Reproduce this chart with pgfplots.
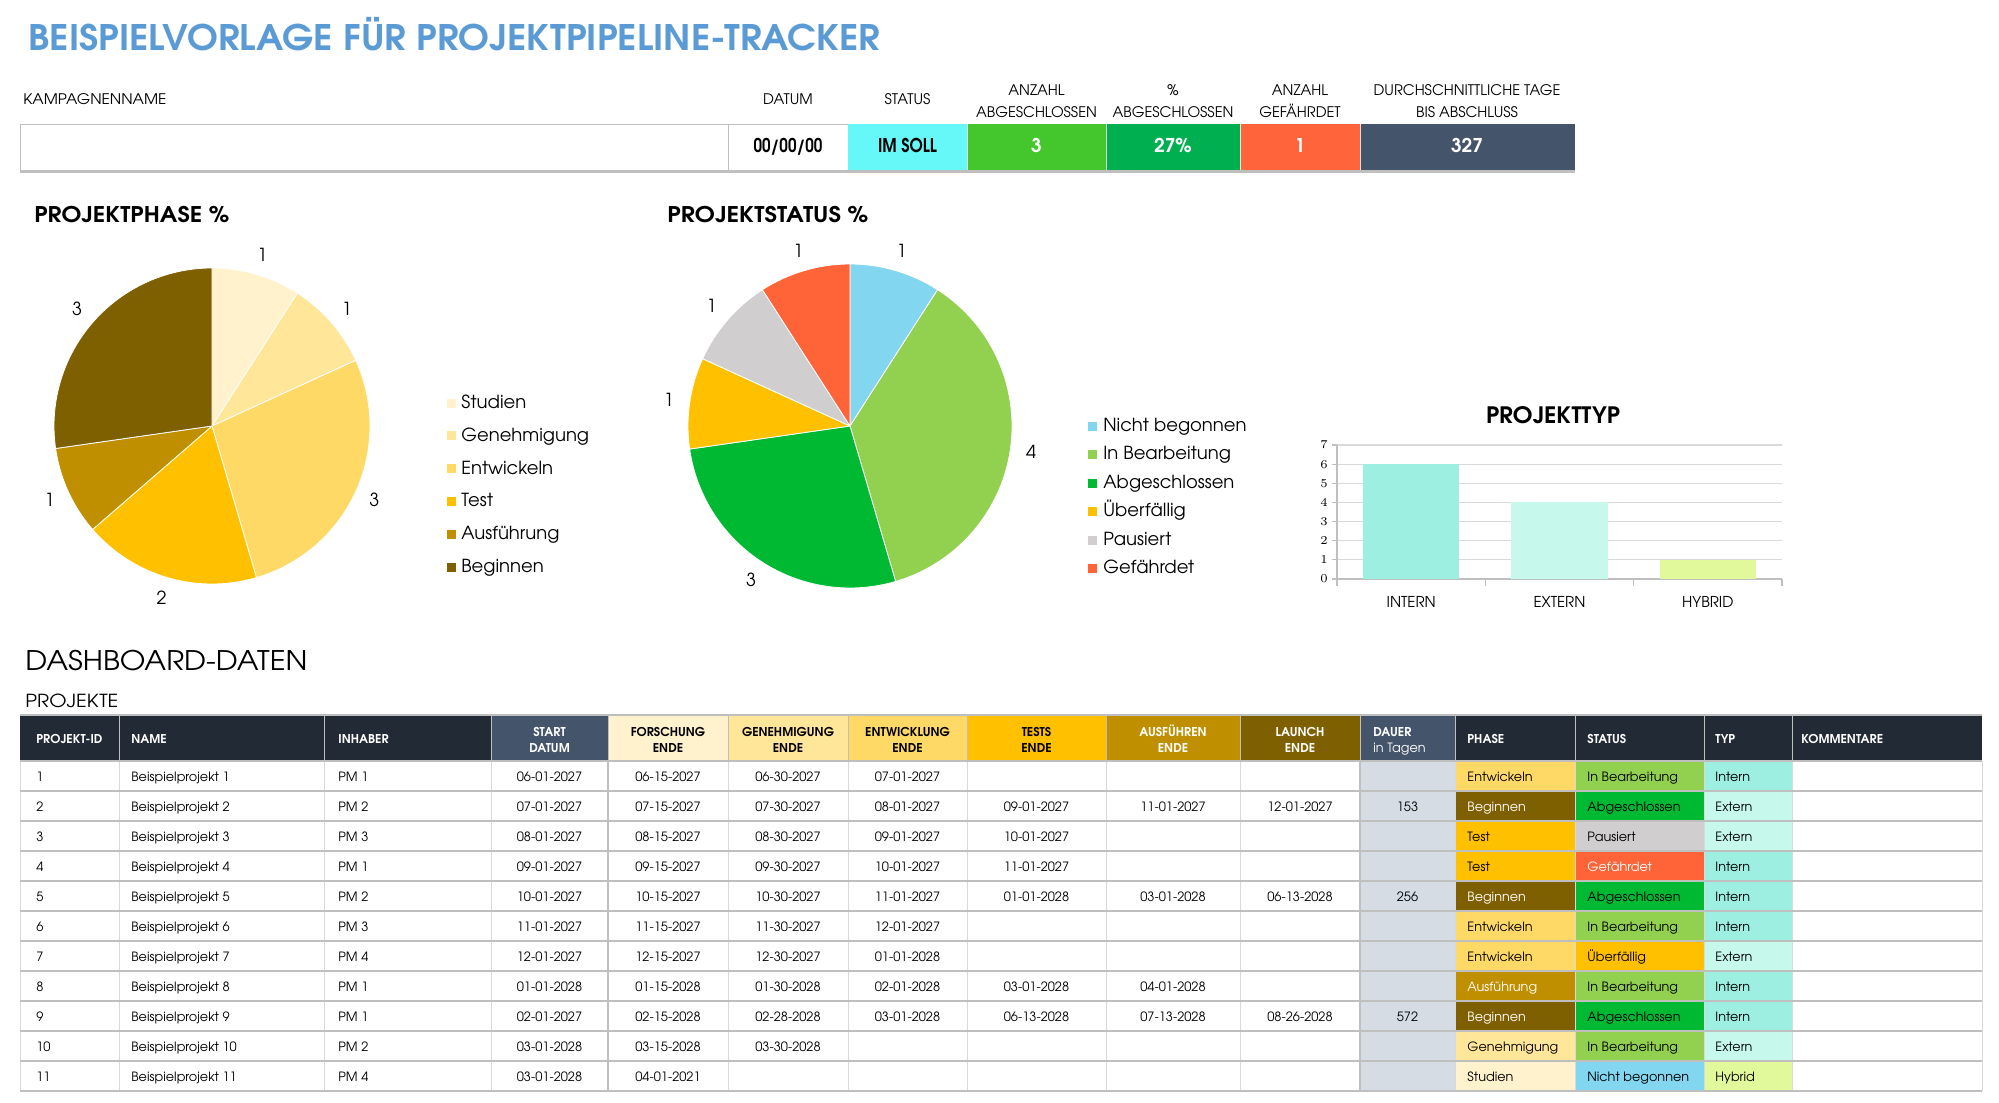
\documentclass[border=0pt]{standalone}
\usepackage{graphicx}
\usepackage{pgfplots}
\pgfplotsset{compat=1.18}
\usepackage{fontspec}
\setmainfont{TeX Gyre Adventor}
\definecolor{titleblue}{HTML}{5B9BD5}
\definecolor{hdark}{HTML}{222A35}
\definecolor{slate}{HTML}{44546A}
\definecolor{ph1}{HTML}{FFF2CC}
\definecolor{ph2}{HTML}{FFE699}
\definecolor{ph3}{HTML}{FFD966}
\definecolor{ph4}{HTML}{FFC000}
\definecolor{ph5}{HTML}{BF8F00}
\definecolor{ph6}{HTML}{7F6000}
\definecolor{st1}{HTML}{83D6F0}
\definecolor{st2}{HTML}{92D050}
\definecolor{st3}{HTML}{00B933}
\definecolor{st4}{HTML}{FFC000}
\definecolor{st5}{HTML}{D0CECE}
\definecolor{st6}{HTML}{FF6338}
\definecolor{ty1}{HTML}{9DEFE1}
\definecolor{ty2}{HTML}{C6F9EB}
\definecolor{ty3}{HTML}{E2F99B}
\definecolor{kcyan}{HTML}{66F8F8}
\definecolor{kgreen}{HTML}{44C72C}
\definecolor{kgreen2}{HTML}{00B050}
\definecolor{korange}{HTML}{FF643A}
\definecolor{dauer}{HTML}{D6DCE4}
\definecolor{gridc}{HTML}{BFBFBF}
\definecolor{gridl}{HTML}{D9D9D9}
\newcommand{\fs}[1]{\fontsize{#1pt}{#1pt}\selectfont}
\newcommand{\fw}[2]{\resizebox{#1}{\height}{#2}}
\newcommand{\wt}[1]{\textcolor{white}{#1}}
% pie slice: start count, end count, total, colour, radius (axis units = px), radius in pt
\newcommand{\pieslice}[6]{%
  \fill[#4, draw=white, line width=0.4pt] (axis cs:0,0) -- (axis cs:{#5*cos(90-360*#1/#3)},{#5*sin(90-360*#1/#3)})
    arc[start angle={90-360*#1/#3}, end angle={90-360*#2/#3}, radius=#6pt] -- cycle;}
% pie label: start, end, total, radius, text
\newcommand{\pielabel}[5]{%
  \node[font=\fs{9}, inner sep=0pt] at (axis cs:{1.13*#4*cos(90-180*(#1+#2)/#3)},{1.13*#4*sin(90-180*(#1+#2)/#3)}) {#5};}
\tikzset{
  lbl/.style={font=\fs{7.3}, inner sep=0pt, anchor=mid},
  kv/.style={font=\fs{9.5}\bfseries, inner sep=0pt, anchor=mid},
  hd/.style={font=\fs{6.1}\bfseries, inner sep=0pt, anchor=mid},
  cell/.style={font=\fs{6.4}, inner sep=0pt, anchor=mid},
  leg/.style={font=\fs{9}, inner sep=0pt, anchor=mid west},
}
\newcommand{\rowA}[8]{%
  \node[cell, anchor=mid west] at (36,{746+30*#1}) {#2};
  \node[cell, anchor=mid west] at (131,{746+30*#1}) {#3};
  \node[cell, anchor=mid west] at (338,{746+30*#1}) {#4};
  \node[cell] at (549.5,{746+30*#1}) {#5};
  \node[cell] at (668,{746+30*#1}) {#6};
  \node[cell] at (788,{746+30*#1}) {#7};
  \node[cell] at (907.5,{746+30*#1}) {#8};}
\newcommand{\rowB}[5]{%
  \node[cell] at (1036.5,{746+30*#1}) {#2};
  \node[cell] at (1173,{746+30*#1}) {#3};
  \node[cell] at (1300,{746+30*#1}) {#4};
  \node[cell] at (1407.5,{746+30*#1}) {#5};}
\newcommand{\rowC}[7]{%
  \fill[#2] (1455,{731+30*#1}) rectangle (1575,{761+30*#1});
  \fill[#4] (1575,{731+30*#1}) rectangle (1704,{761+30*#1});
  \fill[#6] (1704,{731+30*#1}) rectangle (1792,{761+30*#1});
  \node[cell, anchor=mid west] at (1467,{746+30*#1}) {#3};
  \node[cell, anchor=mid west] at (1587,{746+30*#1}) {#5};
  \node[cell, anchor=mid west] at (1715,{746+30*#1}) {#7};}
\begin{document}
\begin{tikzpicture}[x=0.5pt,y=-0.5pt]
\fill[white] (0,0) rectangle (1999,1103);
% ---------- title ----------
\node[anchor=base west, inner sep=0pt, text=titleblue, font=\fs{17.6}\bfseries] at (28,51) {\fw{426pt}{BEISPIELVORLAGE FÜR PROJEKTPIPELINE-TRACKER}};
% ---------- KPI row ----------
\node[lbl, anchor=mid west] at (23,99) {\fw{71.5pt}{KAMPAGNENNAME}};
\node[lbl] at (788,99) {DATUM};
\node[lbl] at (907.5,99) {STATUS};
\node[lbl] at (1036.5,90) {ANZAHL};
\node[lbl] at (1036.5,112) {ABGESCHLOSSEN};
\node[lbl] at (1173,90) {\%};
\node[lbl] at (1173,112) {ABGESCHLOSSEN};
\node[lbl] at (1300,90) {ANZAHL};
\node[lbl] at (1300,112) {GEFÄHRDET};
\node[lbl] at (1467,90) {DURCHSCHNITTLICHE TAGE};
\node[lbl] at (1467,112) {BIS ABSCHLUSS};
\fill[kcyan] (848,124) rectangle (967,170);
\fill[kgreen] (967,124) rectangle (1106,170);
\fill[kgreen2] (1106,124) rectangle (1240,170);
\fill[korange] (1240,124) rectangle (1360,170);
\fill[slate] (1360,124) rectangle (1575,170);
\draw[gridc, line width=0.5pt] (20,170) -- (20,124) -- (848,124);
\draw[gridc, line width=0.5pt] (728,124) -- (728,170);
\foreach \xx in {967,1106,1240,1360} \draw[white!80!gray, line width=0.4pt] (\xx,124) -- (\xx,170);
\draw[gridc, line width=1.5pt] (20,171) -- (1575,171);
\node[kv] at (788,147) {\fw{34.5pt}{00/00/00}};
\node[kv] at (907.5,147) {\fw{29.5pt}{IM SOLL}};
\node[kv, text=white] at (1036.5,147) {3};
\node[kv, text=white] at (1173,147) {27\%};
\node[kv, text=white] at (1300,147) {1};
\node[kv, text=white] at (1467,147) {327};
% ---------- chart titles ----------
\node[anchor=base west, inner sep=0pt, font=\fs{10.8}\bfseries] at (34,222) {\fw{97.5pt}{PROJEKTPHASE \%}};
\node[anchor=base west, inner sep=0pt, font=\fs{10.8}\bfseries] at (667,222) {\fw{100.5pt}{PROJEKTSTATUS \%}};
\node[anchor=base, inner sep=0pt, font=\fs{11.3}\bfseries] at (1553,423) {\fw{67pt}{PROJEKTTYP}};
% ---------- phase pie ----------
\begin{axis}[at={(106pt,-213pt)}, anchor=center, x=0.5pt, y=0.5pt,
  xmin=-200, xmax=200, ymin=-200, ymax=200, hide axis, clip=false]
\pieslice{0}{1}{11}{ph1}{158}{79}
\pieslice{1}{2}{11}{ph2}{158}{79}
\pieslice{2}{5}{11}{ph3}{158}{79}
\pieslice{5}{7}{11}{ph4}{158}{79}
\pieslice{7}{8}{11}{ph5}{158}{79}
\pieslice{8}{11}{11}{ph6}{158}{79}
\pielabel{0}{1}{11}{158}{1}
\pielabel{1}{2}{11}{158}{1}
\pielabel{2}{5}{11}{158}{3}
\pielabel{5}{7}{11}{158}{2}
\pielabel{7}{8}{11}{158}{1}
\pielabel{8}{11}{11}{158}{3}
\end{axis}
% phase legend
\foreach \c/\t [count=\k from 0] in {ph1/Studien, ph2/Genehmigung, ph3/Entwickeln, ph4/Test, ph5/Ausführung, ph6/Beginnen}{
  \fill[\c] (447,{403+32.8*\k-4.5}) rectangle (456,{403+32.8*\k+4.5});
  \node[leg] at (461,{403+32.8*\k}) {\t};
}
% ---------- status pie ----------
\begin{axis}[at={(425pt,-213pt)}, anchor=center, x=0.5pt, y=0.5pt,
  xmin=-200, xmax=200, ymin=-200, ymax=200, hide axis, clip=false]
\pieslice{0}{1}{11}{st1}{162}{81}
\pieslice{1}{5}{11}{st2}{162}{81}
\pieslice{5}{8}{11}{st3}{162}{81}
\pieslice{8}{9}{11}{st4}{162}{81}
\pieslice{9}{10}{11}{st5}{162}{81}
\pieslice{10}{11}{11}{st6}{162}{81}
\pielabel{0}{1}{11}{162}{1}
\pielabel{1}{5}{11}{162}{4}
\pielabel{5}{8}{11}{162}{3}
\pielabel{8}{9}{11}{162}{1}
\pielabel{9}{10}{11}{162}{1}
\pielabel{10}{11}{11}{162}{1}
\end{axis}
\foreach \c/\t [count=\k from 0] in {st1/Nicht begonnen, st2/In Bearbeitung, st3/Abgeschlossen, st4/Überfällig, st5/Pausiert, st6/Gefährdet}{
  \fill[\c] (1088,{426+28.5*\k-4.5}) rectangle (1097,{426+28.5*\k+4.5});
  \node[leg] at (1103,{426+28.5*\k}) {\t};
}
% ---------- bar chart ----------
\begin{axis}[at={(668.5pt,-289.5pt)}, anchor=south west,
  scale only axis, width=222.5pt, height=67pt,
  xmin=-0.5, xmax=2.5, ymin=0, ymax=7,
  xtick={0,1,2}, xticklabels={INTERN,EXTERN,HYBRID},
  ytick={0,1,...,7},
  axis x line*=bottom, axis y line*=left,
  axis line style={gridc, line width=0.6pt},
  ymajorgrids, grid style={gridl, line width=0.6pt},
  tick align=outside, major tick length=2.5pt,
  tick style={gridc, line width=0.6pt},
  xtick style={draw=none},
  yticklabel style={font=\fs{5.8}, anchor=east, inner sep=0pt, xshift=-2pt},
  xticklabel style={font=\fs{7.5}, anchor=base, yshift=-11.5pt, inner sep=0pt},
  ybar, bar width=0.65, clip=false]
\addplot[fill=ty1, draw=none, bar shift=0pt] coordinates {(0,6)};
\addplot[fill=ty2, draw=none, bar shift=0pt] coordinates {(1,4)};
\addplot[fill=ty3, draw=none, bar shift=0pt] coordinates {(2,1)};
\draw[gridc, line width=0.6pt] (axis cs:-0.5,0) -- ([yshift=-3.5pt]axis cs:-0.5,0);
\draw[gridc, line width=0.6pt] (axis cs:0.5,0) -- ([yshift=-3.5pt]axis cs:0.5,0);
\draw[gridc, line width=0.6pt] (axis cs:1.5,0) -- ([yshift=-3.5pt]axis cs:1.5,0);
\draw[gridc, line width=0.6pt] (axis cs:2.5,0) -- ([yshift=-3.5pt]axis cs:2.5,0);
\end{axis}
% ---------- dashboard data ----------
\node[anchor=base west, inner sep=0pt, font=\fs{13.5}] at (25,670) {\fw{141pt}{DASHBOARD-DATEN}};
\node[anchor=base west, inner sep=0pt, font=\fs{9}] at (25,707) {\fw{46.5pt}{PROJEKTE}};
% header fills
\fill[hdark] (20,715) rectangle (491,761);
\fill[slate] (491,715) rectangle (608,761);
\fill[ph1] (608,715) rectangle (728,761);
\fill[ph2] (728,715) rectangle (848,761);
\fill[ph3] (848,715) rectangle (967,761);
\fill[ph4] (967,715) rectangle (1106,761);
\fill[ph5] (1106,715) rectangle (1240,761);
\fill[ph6] (1240,715) rectangle (1360,761);
\fill[slate] (1360,715) rectangle (1455,761);
\fill[hdark] (1455,715) rectangle (1982,761);
\foreach \xx in {119,324,491,608,728,848,967,1106,1240,1360,1455,1575,1704,1792}
  \draw[gridc, line width=0.4pt] (\xx,715) -- (\xx,761);
\draw[gridc, line width=0.6pt] (20,715) -- (1982,715);
% header texts
\node[hd, anchor=mid west, text=white] at (36,738) {PROJEKT-ID};
\node[hd, anchor=mid west, text=white] at (131,738) {NAME};
\node[hd, anchor=mid west, text=white] at (338,738) {INHABER};
\node[hd, text=white] at (549.5,731) {START};
\node[hd, text=white] at (549.5,747) {DATUM};
\node[hd] at (668,731) {FORSCHUNG};
\node[hd] at (668,747) {ENDE};
\node[hd] at (788,731) {GENEHMIGUNG};
\node[hd] at (788,747) {ENDE};
\node[hd] at (907.5,731) {ENTWICKLUNG};
\node[hd] at (907.5,747) {ENDE};
\node[hd] at (1036.5,731) {TESTS};
\node[hd] at (1036.5,747) {ENDE};
\node[hd, text=white] at (1173,731) {AUSFÜHREN};
\node[hd, text=white] at (1173,747) {ENDE};
\node[hd, text=white] at (1300,731) {LAUNCH};
\node[hd, text=white] at (1300,747) {ENDE};
\node[hd, anchor=mid west, text=white] at (1373,731) {DAUER};
\node[cell, anchor=mid west, text=white] at (1373,747) {in Tagen};
\node[hd, anchor=mid west, text=white] at (1467,738) {PHASE};
\node[hd, anchor=mid west, text=white] at (1587,738) {STATUS};
\node[hd, anchor=mid west, text=white] at (1715,738) {TYP};
\node[hd, anchor=mid west, text=white] at (1801,738) {KOMMENTARE};
% body
\fill[dauer] (1360,761) rectangle (1455,1091);
\rowA{1}{1}{Beispielprojekt 1}{PM 1}{06-01-2027}{06-15-2027}{06-30-2027}{07-01-2027}
\rowB{1}{}{}{}{}
\rowC{1}{ph3}{Entwickeln}{st2}{In Bearbeitung}{ty1}{Intern}
\rowA{2}{2}{Beispielprojekt 2}{PM 2}{07-01-2027}{07-15-2027}{07-30-2027}{08-01-2027}
\rowB{2}{09-01-2027}{11-01-2027}{12-01-2027}{153}
\rowC{2}{ph6}{\wt{Beginnen}}{st3}{Abgeschlossen}{ty2}{Extern}
\rowA{3}{3}{Beispielprojekt 3}{PM 3}{08-01-2027}{08-15-2027}{08-30-2027}{09-01-2027}
\rowB{3}{10-01-2027}{}{}{}
\rowC{3}{ph4}{Test}{st5}{Pausiert}{ty2}{Extern}
\rowA{4}{4}{Beispielprojekt 4}{PM 1}{09-01-2027}{09-15-2027}{09-30-2027}{10-01-2027}
\rowB{4}{11-01-2027}{}{}{}
\rowC{4}{ph4}{Test}{st6}{\wt{Gefährdet}}{ty1}{Intern}
\rowA{5}{5}{Beispielprojekt 5}{PM 2}{10-01-2027}{10-15-2027}{10-30-2027}{11-01-2027}
\rowB{5}{01-01-2028}{03-01-2028}{06-13-2028}{256}
\rowC{5}{ph6}{\wt{Beginnen}}{st3}{Abgeschlossen}{ty1}{Intern}
\rowA{6}{6}{Beispielprojekt 6}{PM 3}{11-01-2027}{11-15-2027}{11-30-2027}{12-01-2027}
\rowB{6}{}{}{}{}
\rowC{6}{ph3}{Entwickeln}{st2}{In Bearbeitung}{ty1}{Intern}
\rowA{7}{7}{Beispielprojekt 7}{PM 4}{12-01-2027}{12-15-2027}{12-30-2027}{01-01-2028}
\rowB{7}{}{}{}{}
\rowC{7}{ph3}{Entwickeln}{st4}{Überfällig}{ty2}{Extern}
\rowA{8}{8}{Beispielprojekt 8}{PM 1}{01-01-2028}{01-15-2028}{01-30-2028}{02-01-2028}
\rowB{8}{03-01-2028}{04-01-2028}{}{}
\rowC{8}{ph5}{\wt{Ausführung}}{st2}{In Bearbeitung}{ty1}{Intern}
\rowA{9}{9}{Beispielprojekt 9}{PM 1}{02-01-2027}{02-15-2028}{02-28-2028}{03-01-2028}
\rowB{9}{06-13-2028}{07-13-2028}{08-26-2028}{572}
\rowC{9}{ph6}{\wt{Beginnen}}{st3}{Abgeschlossen}{ty1}{Intern}
\rowA{10}{10}{Beispielprojekt 10}{PM 2}{03-01-2028}{03-15-2028}{03-30-2028}{}
\rowB{10}{}{}{}{}
\rowC{10}{ph2}{Genehmigung}{st2}{In Bearbeitung}{ty2}{Extern}
\rowA{11}{11}{Beispielprojekt 11}{PM 4}{03-01-2028}{04-01-2021}{}{}
\rowB{11}{}{}{}{}
\rowC{11}{ph1}{Studien}{st1}{Nicht begonnen}{ty3}{Hybrid}
% grid lines
\foreach \xx in {20,119,324,491,728,848,967,1106,1240,1455,1575,1704,1792,1982}
  \draw[gridl, line width=0.5pt] (\xx,761) -- (\xx,1091);
\draw[gridc, line width=1pt] (608,761) -- (608,1091);
\draw[gridc, line width=1pt] (1360,761) -- (1360,1091);
\foreach \k in {0,...,11}
  \draw[gridc, line width=0.8pt] (20,{761+30*\k}) -- (1982,{761+30*\k});
\pgfresetboundingbox
\useasboundingbox (0,0) rectangle (1999,1103);
\end{tikzpicture}
\end{document}
